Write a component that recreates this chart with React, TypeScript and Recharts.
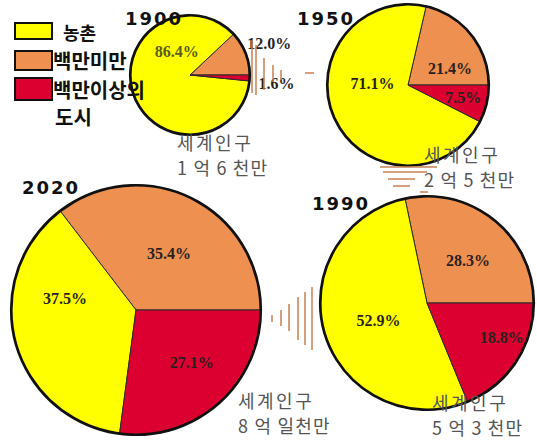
import { PieChart, Pie, Cell, Legend } from 'recharts'

const years = ['1900', '1950', '2020', '1990']
const categories = ['농촌', '백만미만', '백만이상의 도시']
const rural = [86.4, 71.1, 37.5, 52.9]
const smallCity = [12.0, 21.4, 35.4, 28.3]
const bigCity = [1.6, 7.5, 27.1, 18.8]
const population = ['1 억 6 천만', '2 억 5 천만', '8 억 일천만', '5 억 3 천만']

const colors = { '농촌': '#ffff00', '백만미만': '#ee9150', '백만이상의 도시': '#dc0030' }

// pie placement, year title and population caption for each year
const layout = [
    { cx: 190, cy: 75, r: 60, year: [125, 25], caption: [177, 150] },
    { cx: 408, cy: 85, r: 81, year: [297, 25], caption: [424, 162] },
    { cx: 136, cy: 310, r: 125, year: [22, 194], caption: [238, 408] },
    { cx: 427, cy: 303, r: 107, year: [312, 210], caption: [432, 410] },
]

// label spot per slice (orange, yellow, red): angle in degrees, distance as share of radius
const labelSpots = [
    [[21.7, 1.42], [119.5, 0.45], [-5.4, 1.45]],
    [[22, 0.56], [178, 0.44], [-13, 0.7]],
    [[59.5, 0.52], [171, 0.575], [-43, 0.61]],
    [[45.7, 0.55], [199.5, 0.48], [-25, 0.77]],
]

const tableFor = (i: number) => [
    { name: categories[1], value: smallCity[i] },
    { name: categories[0], value: rural[i] },
    { name: categories[2], value: bigCity[i] },
]

const makeLabel = (i: number) => (props: any) => {
    const { index, value } = props
    const p = layout[i]
    const [ang, d] = labelSpots[i][index]
    const rad = (ang * Math.PI) / 180
    const x = p.cx + p.r * d * Math.cos(rad)
    const y = p.cy - p.r * d * Math.sin(rad)
    const fill = i === 0 && index === 1 ? '#5e5a1c' : '#2a1f1f'
    return (
        <text
            x={x}
            y={y}
            textAnchor="middle"
            dominantBaseline="central"
            fontFamily="Liberation Serif"
            fontWeight="bold"
            fontSize={16}
            fill={fill}
        >
            {`${value.toFixed(1)}%`}
        </text>
    )
}

const LegendBox = () => {
    const box = (top: number, h: number, color: string) => (
        <div
            style={{
                position: 'absolute',
                left: 14,
                top,
                width: 35,
                height: h - 4,
                background: color,
                border: '2px solid #111',
            }}
        />
    )
    const txt = (left: number, top: number, s: string, size = 20) => (
        <div
            style={{
                position: 'absolute',
                left,
                top,
                fontFamily: '"Noto Sans CJK KR"',
                fontWeight: 700,
                fontSize: size,
                lineHeight: '24px',
                color: '#111',
                whiteSpace: 'nowrap',
            }}
        >
            {s}
        </div>
    )
    return (
        <div style={{ position: 'relative', width: 200, height: 130 }}>
            {box(22, 18, colors['농촌'])}
            {txt(63, 20, '농촌', 18)}
            {box(50, 21, colors['백만미만'])}
            {txt(53, 49, '백만미만')}
            {box(77, 24, colors['백만이상의 도시'])}
            {txt(53, 78, '백만이상의')}
            {txt(55, 105, '도시')}
        </div>
    )
}

const deco = '#c98052'

export default function App() {
    return (
        <div style={{ position: 'fixed', left: 0, top: 0, width: 537, height: 443, background: '#fff' }}>
            <PieChart width={537} height={443} margin={{ top: 0, right: 0, bottom: 0, left: 0 }}>
                {layout.map((p, i) => (
                    <Pie
                        key={years[i]}
                        data={tableFor(i)}
                        dataKey="value"
                        nameKey="name"
                        cx={p.cx}
                        cy={p.cy}
                        outerRadius={p.r}
                        startAngle={0}
                        endAngle={360}
                        stroke="#2a2a2a"
                        strokeWidth={1}
                        label={makeLabel(i)}
                        labelLine={false}
                        isAnimationActive={false}
                    >
                        {tableFor(i).map((d) => (
                            <Cell key={d.name} fill={colors[d.name as keyof typeof colors]} />
                        ))}
                    </Pie>
                ))}
                {layout.map((p, i) => (
                    <Pie
                        key={`ring-${years[i]}`}
                        data={[{ name: 'ring', value: 1 }]}
                        dataKey="value"
                        cx={p.cx}
                        cy={p.cy}
                        innerRadius={p.r - 0.5}
                        outerRadius={p.r}
                        fill="none"
                        stroke="#111"
                        strokeWidth={2.2}
                        isAnimationActive={false}
                        legendType="none"
                    />
                ))}
                <Legend
                    content={<LegendBox />}
                    wrapperStyle={{ position: 'absolute', left: 0, top: 0, width: 200, height: 130 }}
                />
            </PieChart>
            <svg
                width={537}
                height={443}
                style={{ position: 'absolute', left: 0, top: 0, pointerEvents: 'none' }}
            >
                {layout.map((p, i) => (
                    <g key={years[i]}>
                        <text
                            x={p.year[0]}
                            y={p.year[1]}
                            fontFamily="DejaVu Sans"
                            fontWeight="bold"
                            fontSize={18}
                            letterSpacing={2}
                            fill="#111"
                        >
                            {years[i]}
                        </text>
                        <text
                            x={p.caption[0]}
                            y={p.caption[1]}
                            fontFamily='"Noto Sans CJK KR"'
                            fontSize={18}
                            letterSpacing={2.5}
                            fill="#555"
                        >
                            세계인구
                        </text>
                        <text
                            x={p.caption[0]}
                            y={p.caption[1] + 25}
                            fontFamily='"Noto Sans CJK KR"'
                            fontSize={18}
                            letterSpacing={1.2}
                            fill="#555"
                            xmlSpace="preserve"
                        >
                            {population[i]}
                        </text>
                    </g>
                ))}
                <g stroke={deco} strokeWidth={1.5}>
                    <line x1={252} y1={40} x2={252} y2={93} />
                    <line x1={256} y1={45} x2={256} y2={95} />
                    <line x1={264} y1={58} x2={264} y2={90} />
                    <line x1={273} y1={65} x2={273} y2={82} />
                    <line x1={281} y1={70} x2={281} y2={80} />
                    <line x1={305} y1={73} x2={314} y2={73} />
                    <line x1={380} y1={167} x2={437} y2={167} />
                    <line x1={383} y1={172} x2={427} y2={172} />
                    <line x1={388} y1={179} x2={415} y2={179} />
                    <line x1={393} y1={186} x2={410} y2={186} />
                    <line x1={420} y1={192} x2={428} y2={192} />
                    <line x1={272} y1={315} x2={272} y2={322} />
                    <line x1={281} y1={310} x2={281} y2={326} />
                    <line x1={289} y1={304} x2={289} y2={331} />
                    <line x1={298} y1={297} x2={298} y2={340} />
                    <line x1={305} y1={292} x2={305} y2={345} />
                    <line x1={312} y1={287} x2={312} y2={350} />
                </g>
            </svg>
        </div>
    )
}
